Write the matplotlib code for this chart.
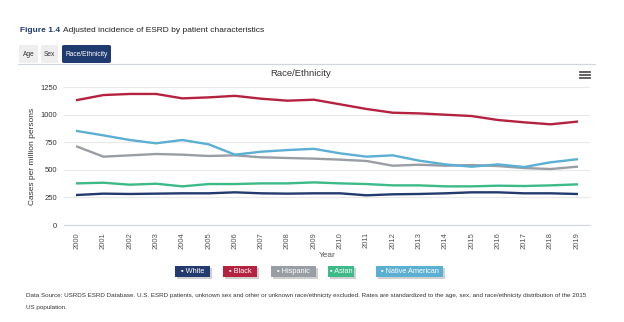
import matplotlib.pyplot as plt
from matplotlib.patches import FancyBboxPatch, Rectangle
from matplotlib.lines import Line2D

plt.rcParams['font.family'] = ['Liberation Sans', 'DejaVu Sans']

years = [str(y) for y in range(2000, 2020)]
series_names = ["White", "Black", "Hispanic", "Asian", "Native American"]
series_colors = ["#233a6e", "#b5223f", "#999ea5", "#3cba87", "#5bafd2"]

white = [272, 284, 281, 284, 287, 287, 296, 287, 284, 287,
         287, 269, 278, 281, 287, 296, 296, 287, 287, 281]
black = [1132, 1177, 1187, 1187, 1147, 1156, 1170, 1144, 1126, 1135,
         1093, 1051, 1017, 1011, 999, 987, 951, 930, 912, 936]
hispanic = [710, 619, 631, 643, 637, 625, 631, 613, 607, 601,
            592, 580, 537, 546, 537, 543, 534, 516, 507, 528]
asian = [377, 383, 365, 374, 350, 371, 371, 377, 377, 386,
         377, 371, 359, 359, 350, 350, 356, 353, 359, 368]
native_american = [851, 812, 770, 740, 770, 731, 637, 664, 679, 690,
                   649, 619, 631, 583, 549, 528, 549, 525, 568, 595]
series_values = [white, black, hispanic, asian, native_american]

y_ticks = [0, 250, 500, 750, 1000, 1250]

W, H = 624, 322
fig = plt.figure(figsize=(W / 100, H / 100), dpi=100)


def fx(px):
    return px / W


def fy(py):
    return 1 - py / H


ax = fig.add_axes([fx(64), fy(225), fx(590) - fx(64), fy(87) - fy(225)])
x = list(range(len(years)))
for name, vals, col in zip(series_names, series_values, series_colors):
    ax.plot(x, vals, color=col, lw=1.7, label=name, solid_joinstyle="round")

ax.set_xlim(-0.5, len(years) - 0.5)
ax.set_ylim(0, 1250)
ax.set_yticks(y_ticks)
ax.set_yticklabels([str(v) for v in y_ticks], fontsize=5.5, color="#333333")
ax.set_xticks(x)
ax.set_xticklabels(years, rotation=90, fontsize=5.5, color="#555555")
ax.tick_params(axis="both", length=0, pad=5)
ax.grid(axis="y", color="#e9e9e9", lw=0.8)
ax.set_axisbelow(True)
for s in ["top", "right", "left"]:
    ax.spines[s].set_visible(False)
ax.spines["bottom"].set_color("#ccd6eb")
ax.spines["bottom"].set_linewidth(0.8)
ax.set_ylabel("Cases per million persons", fontsize=6, color="#333333", labelpad=3)
ax.set_xlabel("Year", fontsize=6, color="#555555", labelpad=2)

# chart title and menu icon
fig.text(fx(301), fy(74), "Race/Ethnicity", fontsize=6.8, color="#333333",
         ha="center", va="center")
for dy in (-3, 0, 3):
    fig.add_artist(Line2D([fx(580), fx(590)], [fy(75 + dy)] * 2,
                          color="#555555", lw=1.3))

# header
fig.text(fx(20), fy(30), "Figure 1.4", fontsize=6.0, color="#1f3a6e",
         fontweight="bold", va="center")
fig.text(fx(63), fy(30), "Adjusted incidence of ESRD by patient characteristics",
         fontsize=6.0, color="#222222", va="center")

tabs = [("Age", 19, 38, False), ("Sex", 41, 58, False), ("Race/Ethnicity", 62, 111, True)]
for label, x0, x1, active in tabs:
    fc = "#1f3a6e" if active else "#eeeeee"
    fig.add_artist(FancyBboxPatch((fx(x0), fy(63)), fx(x1) - fx(x0), fy(45) - fy(63),
                                  boxstyle="round,pad=0,rounding_size=0.004",
                                  fc=fc, ec="none", transform=fig.transFigure))
    fig.text(fx((x0 + x1) / 2), fy(54), label, fontsize=4.8,
             color="white" if active else "#333333", ha="center", va="center")
fig.add_artist(Line2D([fx(18), fx(595)], [fy(63.5)] * 2, color="#cfd6e0", lw=0.8))

# legend buttons
btn_x = [(175, 210), (223, 257), (271, 316), (328, 354), (376, 443)]
for (x0, x1), name, col in zip(btn_x, series_names, series_colors):
    fig.add_artist(Rectangle((fx(x0 + 1.5), fy(278.5)), fx(x1) - fx(x0), fy(266) - fy(277),
                             fc="#d0d0d0", ec="none", transform=fig.transFigure))
    fig.add_artist(Rectangle((fx(x0), fy(277)), fx(x1) - fx(x0), fy(266) - fy(277),
                             fc=col, ec="none", transform=fig.transFigure))
    fig.text(fx((x0 + x1) / 2), fy(271.5), "▪ " + name, fontsize=5.3, color="white",
             ha="center", va="center")

# footnote
fig.text(fx(26), fy(296), "Data Source: USRDS ESRD Database. U.S. ESRD patients, unknown sex and "
         "other or unknown race/ethnicity excluded. Rates are standardized to the age, sex, "
         "and race/ethnicity distribution of the 2015", fontsize=4.53, color="#333333", va="center")
fig.text(fx(26), fy(308), "US population.", fontsize=4.53, color="#333333", va="center")

fig.savefig("out.png", dpi=100)
